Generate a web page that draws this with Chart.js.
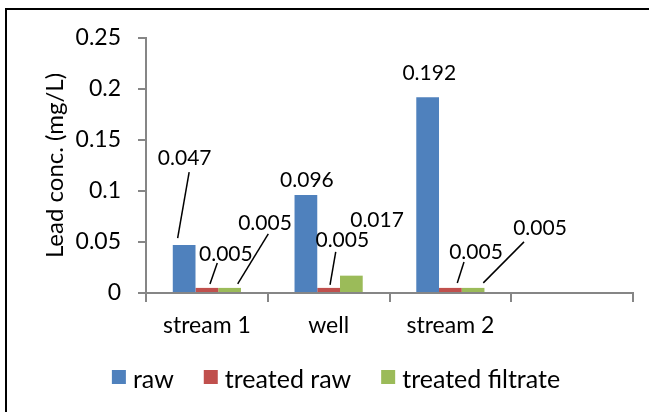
<!DOCTYPE html>
<html>
<head>
<meta charset="utf-8">
<script src="https://cdn.jsdelivr.net/npm/chart.js@4.4.1/dist/chart.umd.min.js"></script>
<style>
  body { margin: 0; background: #fff; }
  canvas { display: block; }
</style>
</head>
<body>
<canvas id="leadChart" width="649" height="412"></canvas>
<script>
// ============================
// DATA
// ============================

const categories = ['stream 1', 'well', 'stream 2', ''];

const seriesNames = ['raw', 'treated raw', 'treated filtrate'];

const raw = [0.047, 0.096, 0.192, null];
const treatedRaw = [0.005, 0.005, 0.005, null];
const treatedFiltrate = [0.005, 0.017, 0.005, null];

const yTicks = [0, 0.05, 0.1, 0.15, 0.2, 0.25];

const colors = ['#4F81BD', '#C0504D', '#9BBB59'];

// where each value label sits, relative to the top of its bar
// [textDx, textDy, line from dx, dy, line to dx, dy] (no line when only two)
const labelPlace = [
    [[0.5, -88, 5, -73, -6.5, -7], [1, -16], [1.6, -24.5]],
    [[19, -34, 10.4, -25, 3.1, -4], [13.7, -48, 7.1, -36, 1.4, -3], [25.6, -36, 13.6, -26, 6.9, -5]],
    [[35.4, -65, 38.7, -54, 8.1, -4], [25.7, -56], [66.9, -60, 50.9, -46, 10.2, -5]]
];

const FONT = 'Lato';
const axisGrey = '#868686';


// ============================
// PLUGINS
// ============================

const background = {
    id: 'background',
    beforeDraw(chart) {
        const ctx = chart.ctx;
        ctx.save();
        ctx.fillStyle = '#fff';
        ctx.fillRect(0, 0, chart.width, chart.height);
        ctx.restore();
    },
    afterDraw(chart) {
        // outer frame, cut off at right and bottom like the original
        const ctx = chart.ctx;
        ctx.save();
        ctx.strokeStyle = '#000';
        ctx.lineWidth = 2;
        ctx.beginPath();
        ctx.moveTo(6, chart.height + 2);
        ctx.lineTo(6, 9);
        ctx.lineTo(chart.width + 2, 9);
        ctx.stroke();
        ctx.restore();
    }
};

const valueLabels = {
    id: 'valueLabels',
    afterDatasetsDraw(chart) {
        const ctx = chart.ctx;
        ctx.save();
        ctx.font = '21px ' + FONT;
        ctx.fillStyle = '#000';
        ctx.strokeStyle = '#000';
        ctx.lineWidth = 1.5;
        ctx.textAlign = 'center';
        ctx.textBaseline = 'alphabetic';
        chart.data.datasets.forEach((ds, d) => {
            const meta = chart.getDatasetMeta(d);
            meta.data.forEach((bar, i) => {
                const v = ds.data[i];
                if (v === null) return;
                const p = labelPlace[d][i];
                ctx.fillText(String(v), bar.x + p[0], bar.y + p[1] + 7.5);
                if (p.length > 2) {
                    ctx.beginPath();
                    ctx.moveTo(bar.x + p[2], bar.y + p[3]);
                    ctx.lineTo(bar.x + p[4], bar.y + p[5]);
                    ctx.stroke();
                }
            });
        });
        ctx.restore();
    }
};

const bottomLegend = {
    id: 'bottomLegend',
    afterDraw(chart) {
        const ctx = chart.ctx;
        const box = 14, gapText = 7, gapItem = 30, centerX = 336, baseY = 388;
        ctx.save();
        ctx.font = '25px ' + FONT;
        ctx.textBaseline = 'alphabetic';
        ctx.textAlign = 'left';
        const widths = seriesNames.map(n => ctx.measureText(n).width);
        let total = 0;
        widths.forEach((w, k) => { total += box + gapText + w + (k ? gapItem : 0); });
        let x = centerX - total / 2;
        seriesNames.forEach((n, k) => {
            ctx.fillStyle = colors[k];
            ctx.fillRect(x, 370, box, box);
            ctx.fillStyle = '#000';
            ctx.fillText(n, x + box + gapText, baseY);
            x += box + gapText + widths[k] + gapItem;
        });
        ctx.restore();
    }
};


// ============================
// CHART
// ============================

new Chart(document.getElementById('leadChart'), {

    type: 'bar',

    data: {
        labels: categories,
        datasets: [raw, treatedRaw, treatedFiltrate].map((vals, k) => ({
            label: seriesNames[k],
            data: vals,
            backgroundColor: colors[k],
            borderWidth: 0,
            categoryPercentage: 0.56,
            barPercentage: 1.0
        }))
    },

    options: {
        responsive: false,
        animation: false,
        layout: {
            padding: { left: 0, right: 16, top: 38, bottom: 0 }
        },
        plugins: {
            legend: { display: false },
            tooltip: { enabled: false }
        },
        scales: {
            x: {
                grid: {
                    offset: true,
                    drawOnChartArea: false,
                    tickLength: 9,
                    color: axisGrey,
                    lineWidth: 2
                },
                border: { color: axisGrey, width: 2 },
                ticks: {
                    color: '#000',
                    padding: 10,
                    font: { family: FONT, size: 23 }
                },
                afterFit(scale) { scale.height = 412 - 293; }
            },
            y: {
                min: 0,
                max: 0.25,
                afterBuildTicks(scale) {
                    scale.ticks = yTicks.map(v => ({ value: v }));
                },
                grid: {
                    drawOnChartArea: false,
                    tickLength: 8,
                    color: axisGrey,
                    lineWidth: 2
                },
                border: { color: axisGrey, width: 2 },
                ticks: {
                    color: '#000',
                    padding: 17,
                    font: { family: FONT, size: 23 },
                    callback: v => String(v)
                },
                title: {
                    display: true,
                    text: 'Lead conc. (mg/L)',
                    color: '#000',
                    font: { family: FONT, size: 24 },
                    padding: { top: 40.6, bottom: 0 }
                },
                afterFit(scale) { scale.width = 146; }
            }
        }
    },

    plugins: [background, valueLabels, bottomLegend]

});
</script>
</body>
</html>
